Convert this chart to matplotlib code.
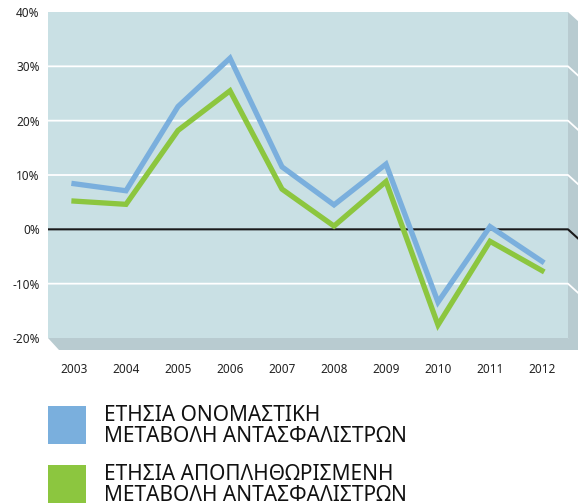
import matplotlib
matplotlib.use("Agg")
import matplotlib.pyplot as plt
from matplotlib.patches import Polygon, Rectangle

# ---- data ----
years = ["2003", "2004", "2005", "2006", "2007", "2008", "2009", "2010", "2011", "2012"]
nominal = [8.4, 7.1, 22.6, 31.5, 11.5, 4.5, 12.0, -13.4, 0.5, -5.9]
deflated = [5.2, 4.6, 18.2, 25.5, 7.4, 0.6, 8.8, -17.6, -2.2, -7.6]
y_ticks = [-20, -10, 0, 10, 20, 30, 40]
y_labels = ["-20%", "-10%", "0%", "10%", "20%", "30%", "40%"]
legend_labels = ["ΕΤΗΣΙΑ ΟΝΟΜΑΣΤΙΚΗ\nΜΕΤΑΒΟΛΗ ΑΝΤΑΣΦΑΛΙΣΤΡΩΝ",
                 "ΕΤΗΣΙΑ ΑΠΟΠΛΗΘΩΡΙΣΜΕΝΗ\nΜΕΤΑΒΟΛΗ ΑΝΤΑΣΦΑΛΙΣΤΡΩΝ"]

BLUE = "#7aafdd"
GREEN = "#8cc63f"
WALL = "#c9e0e4"
SIDE = "#b8cbd0"

plt.rcParams["font.family"] = ["Noto Sans", "DejaVu Sans"]

W, H = 578, 503
fig = plt.figure(figsize=(W / 100, H / 100), dpi=100)

# plot area in pixels
L, T, R, B = 48, 12, 568, 338
ax = fig.add_axes([L / W, 1 - B / H, (R - L) / W, (B - T) / H])
ax.set_xlim(0, len(years))
ax.set_ylim(-20, 40)
ax.set_facecolor(WALL)
for s in ax.spines.values():
    s.set_visible(False)

# pseudo-3D depth (pixels -> data)
dpx, dpy = 11, 12
ddx = dpx * len(years) / (R - L)
ddy = dpy * 60 / (B - T)

# floor and right side wall
floor = Polygon([(0, -20), (10, -20), (10 + ddx * 1.2, -20 - ddy * 0.4),
                 (10 + ddx * 1.2, -20 - ddy), (ddx, -20 - ddy)],
                closed=True, facecolor=SIDE, edgecolor="none", clip_on=False, zorder=0)
side = Polygon([(10, 40), (10 + ddx * 1.2, 40 - ddy), (10 + ddx * 1.2, -20 - ddy),
                (10, -20)], closed=True, facecolor=SIDE, edgecolor="none",
               clip_on=False, zorder=0)
ax.add_patch(floor)
ax.add_patch(side)

# gridlines with slanted ends on side wall
for v in [-10, 10, 20, 30]:
    ax.plot([0, 10, 10 + ddx * 1.2], [v, v, v - ddy], color="white", lw=1.3,
            clip_on=False, zorder=1, solid_capstyle="butt")
ax.plot([0, 10, 10 + ddx * 1.2], [0, 0, -ddy], color="#1a1a1a", lw=1.5,
        clip_on=False, zorder=1, solid_capstyle="butt")

x = [i + 0.5 for i in range(len(years))]
ax.plot(x, nominal, color=BLUE, lw=3.8, zorder=3, solid_joinstyle="miter")
ax.plot(x, deflated, color=GREEN, lw=3.8, zorder=3, solid_joinstyle="miter")

ax.set_xticks(x)
ax.set_xticklabels(years)
ax.set_yticks(y_ticks)
ax.set_yticklabels(y_labels)
ax.tick_params(axis="both", length=0, labelsize=8.5, colors="#222222")
ax.tick_params(axis="x", pad=18)
ax.tick_params(axis="y", pad=6)
ax.grid(False)

# legend
handles_y = [406, 465]
for col, lab, yy in zip([BLUE, GREEN], legend_labels, handles_y):
    fig.patches.append(Rectangle((48 / W, 1 - (yy + 38) / H), 38 / W, 38 / H,
                                 transform=fig.transFigure, facecolor=col,
                                 edgecolor="none"))
    fig.text(104 / W, 1 - (yy + 20) / H, lab, fontsize=15, va="center",
             ha="left", linespacing=0.97, color="#111111")

fig.savefig("out.png", dpi=100)
